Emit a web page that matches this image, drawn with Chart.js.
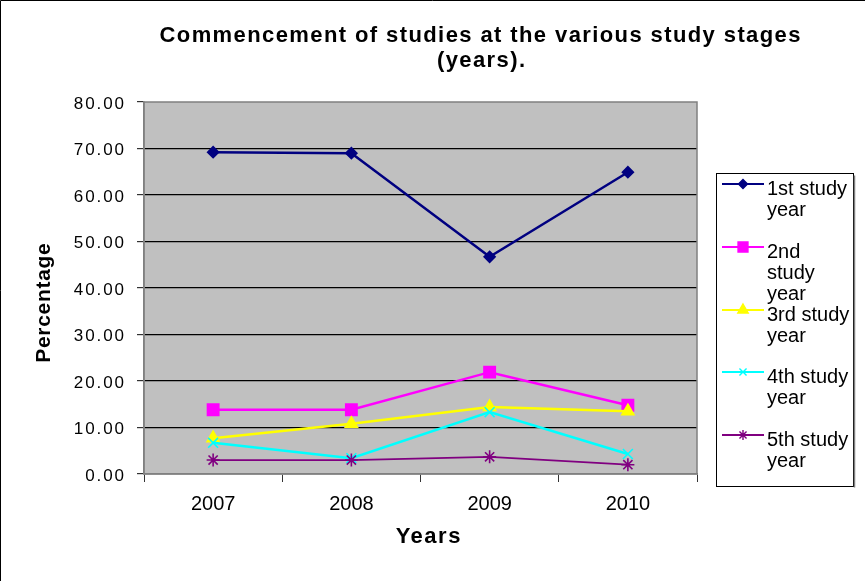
<!DOCTYPE html>
<html>
<head>
<meta charset="utf-8">
<script src="https://cdn.jsdelivr.net/npm/chart.js@4/dist/chart.umd.min.js"></script>
<style>
  html, body { margin: 0; padding: 0; background: #ffffff; }
  #wrap { width: 865px; height: 581px; position: relative; }
</style>
</head>
<body>
<div id="wrap"><canvas id="c" width="865" height="581"></canvas></div>
<script>
// Study years on the category axis
const years = ['2007', '2008', '2009', '2010'];

// Share of students commencing at each study stage (%)
const firstYear  = [69.2, 69.0, 46.7, 64.9];
const secondYear = [13.8, 13.8, 21.9, 14.8];
const thirdYear  = [7.7, 10.8, 14.4, 13.5];
const fourthYear = [6.7, 3.4, 13.3, 4.3];
const fifthYear  = [3.0, 3.0, 3.7, 2.0];

const seriesNames = ['1st study year', '2nd study year', '3rd study year', '4th study year', '5th study year'];
const legendLines = [['1st study', 'year'], ['2nd', 'study', 'year'], ['3rd study', 'year'], ['4th study', 'year'], ['5th study', 'year']];

const yTicks = [0, 10, 20, 30, 40, 50, 60, 70, 80];
const titleLines = ['Commencement of studies at the various study stages', '(years).'];
const xTitle = 'Years';
const yTitle = 'Percentage';

const FONT = '"Liberation Sans", Arial, sans-serif';

const styles = [
  { color: '#000080', point: 'rectRot',  radius: 5.5, legendRadius: 4.5, width: 2.5 },
  { color: '#FF00FF', point: 'rect',     radius: 8,   legendRadius: 7,   width: 2.5 },
  { color: '#FFFF00', point: 'triangle', radius: 7,   legendRadius: 6,   width: 2.5 },
  { color: '#00FFFF', point: 'crossRot', radius: 7,   legendRadius: 5,   width: 2.5 },
  { color: '#800080', point: 'star',     radius: 6.5, legendRadius: 5,   width: 1.8 }
];

const seriesData = [firstYear, secondYear, thirdYear, fourthYear, fifthYear];

const datasets = seriesData.map((d, i) => ({
  label: seriesNames[i],
  data: d,
  borderColor: styles[i].color,
  backgroundColor: styles[i].color,
  borderWidth: styles[i].width,
  pointStyle: styles[i].point,
  pointRadius: styles[i].radius,
  pointBorderColor: styles[i].color,
  pointBackgroundColor: styles[i].color,
  pointBorderWidth: 1.6,
  tension: 0,
  order: seriesData.length - i
}));

function spacedText(ctx, text, x, y, spacing, align) {
  ctx.save();
  ctx.letterSpacing = spacing + 'px';
  const w = ctx.measureText(text).width - spacing;
  let sx = x;
  if (align === 'center') sx = x - w / 2;
  else if (align === 'right') sx = x - w;
  ctx.textAlign = 'left';
  ctx.fillText(text, sx, y);
  ctx.restore();
}

// Grey plot background and frame
const plotFrame = {
  id: 'plotFrame',
  beforeDraw(chart) {
    const { ctx, chartArea: a } = chart;
    ctx.save();
    ctx.fillStyle = '#ffffff';
    ctx.fillRect(0, 0, chart.width, chart.height);
    ctx.fillStyle = '#C0C0C0';
    ctx.fillRect(a.left, a.top, a.right - a.left, a.bottom - a.top);
    // outer border of the figure (top and left)
    ctx.strokeStyle = '#000000';
    ctx.lineWidth = 1;
    ctx.beginPath();
    ctx.moveTo(0.5, chart.height);
    ctx.lineTo(0.5, 0.5);
    ctx.lineTo(chart.width, 0.5);
    ctx.stroke();
    ctx.restore();
  },
  beforeDatasetsDraw(chart) {
    const { ctx, chartArea: a } = chart;
    ctx.save();
    ctx.strokeStyle = '#808080';
    ctx.lineWidth = 1.5;
    ctx.strokeRect(a.left, a.top, a.right - a.left, a.bottom - a.top);
    ctx.restore();
  }
};

// Titles, value labels on the y axis and the boxed legend
const annotations = {
  id: 'annotations',
  afterDraw(chart) {
    const { ctx } = chart;
    const y = chart.scales.y;
    ctx.save();
    ctx.fillStyle = '#000000';

    // chart title
    ctx.font = 'bold 22px ' + FONT;
    ctx.textBaseline = 'alphabetic';
    spacedText(ctx, titleLines[0], 480, 42, 1.4, 'center');
    spacedText(ctx, titleLines[1], 481, 67, 1.4, 'center');

    // y tick labels
    ctx.font = '17px ' + FONT;
    ctx.textBaseline = 'middle';
    yTicks.forEach(v => {
      spacedText(ctx, v.toFixed(2), 124, y.getPixelForValue(v) + 2, 1.9, 'right');
    });

    // axis titles
    ctx.font = 'bold 22px ' + FONT;
    ctx.textBaseline = 'middle';
    spacedText(ctx, xTitle, 428, 537, 1.5, 'center');
    ctx.font = 'bold 21px ' + FONT;
    ctx.save();
    ctx.translate(44, 303);
    ctx.rotate(-Math.PI / 2);
    spacedText(ctx, yTitle, 0, 0, 0.7, 'center');
    ctx.restore();

    // legend
    const box = { l: 716.5, t: 173.5, r: 853.5, b: 486.5 };
    ctx.strokeStyle = '#000000';
    ctx.lineWidth = 1;
    ctx.strokeRect(box.l, box.t, box.r - box.l, box.b - box.t);
    ctx.strokeStyle = '#808080';
    ctx.lineWidth = 1.5;
    ctx.beginPath();
    ctx.moveTo(box.r + 1, box.t + 2);
    ctx.lineTo(box.r + 1, box.b + 1);
    ctx.stroke();

    const rowY = [184, 247, 310, 372, 435];
    chart.data.datasets.forEach((ds, i) => {
      const ry = rowY[i];
      ctx.strokeStyle = ds.borderColor;
      ctx.lineWidth = 2.2;
      ctx.beginPath();
      ctx.moveTo(722, ry);
      ctx.lineTo(764, ry);
      ctx.stroke();
      ctx.fillStyle = ds.pointBackgroundColor;
      ctx.strokeStyle = ds.pointBorderColor;
      ctx.lineWidth = 1.4;
      Chart.helpers.drawPoint(ctx, {
        pointStyle: ds.pointStyle,
        radius: styles[i].legendRadius,
        rotation: 0,
        borderWidth: 1.4
      }, 743, ry);
      ctx.fillStyle = '#000000';
      ctx.font = '20px ' + FONT;
      ctx.textBaseline = 'alphabetic';
      ctx.textAlign = 'left';
      legendLines[i].forEach((line, k) => {
        ctx.fillText(line, 767, ry + 11 + k * 21);
      });
    });
    ctx.restore();
  }
};

new Chart(document.getElementById('c'), {
  type: 'line',
  data: { labels: years, datasets },
  plugins: [plotFrame, annotations],
  options: {
    responsive: false,
    animation: false,
    devicePixelRatio: 1,
    layout: { padding: { top: 102, right: 168, bottom: 0, left: 0 } },
    plugins: {
      legend: { display: false },
      title: { display: false },
      tooltip: { enabled: false }
    },
    scales: {
      x: {
        type: 'category',
        offset: true,
        afterFit(scale) { scale.height = 107; },
        grid: {
          offset: true,
          drawOnChartArea: false,
          drawTicks: true,
          tickLength: 8,
          tickColor: '#333333',
          lineWidth: 1
        },
        border: { display: true, color: '#808080', width: 1.5 },
        ticks: {
          color: '#000000',
          font: { family: FONT, size: 20 },
          padding: 10,
          maxRotation: 0
        }
      },
      y: {
        min: 0,
        max: 80,
        afterFit(scale) { scale.width = 144; },
        afterBuildTicks(scale) { scale.ticks = yTicks.map(v => ({ value: v })); },
        grid: {
          color: c => (c.tick && (c.tick.value === 80 || c.tick.value === 0)) ? 'rgba(0,0,0,0)' : '#000000',
          tickColor: '#333333',
          tickLength: 7,
          lineWidth: 1.2
        },
        border: { display: true, color: '#808080', width: 1.5 },
        ticks: {
          color: 'rgba(0,0,0,0)',
          font: { family: FONT, size: 17 },
          padding: 4
        }
      }
    }
  }
});
</script>
</body>
</html>
